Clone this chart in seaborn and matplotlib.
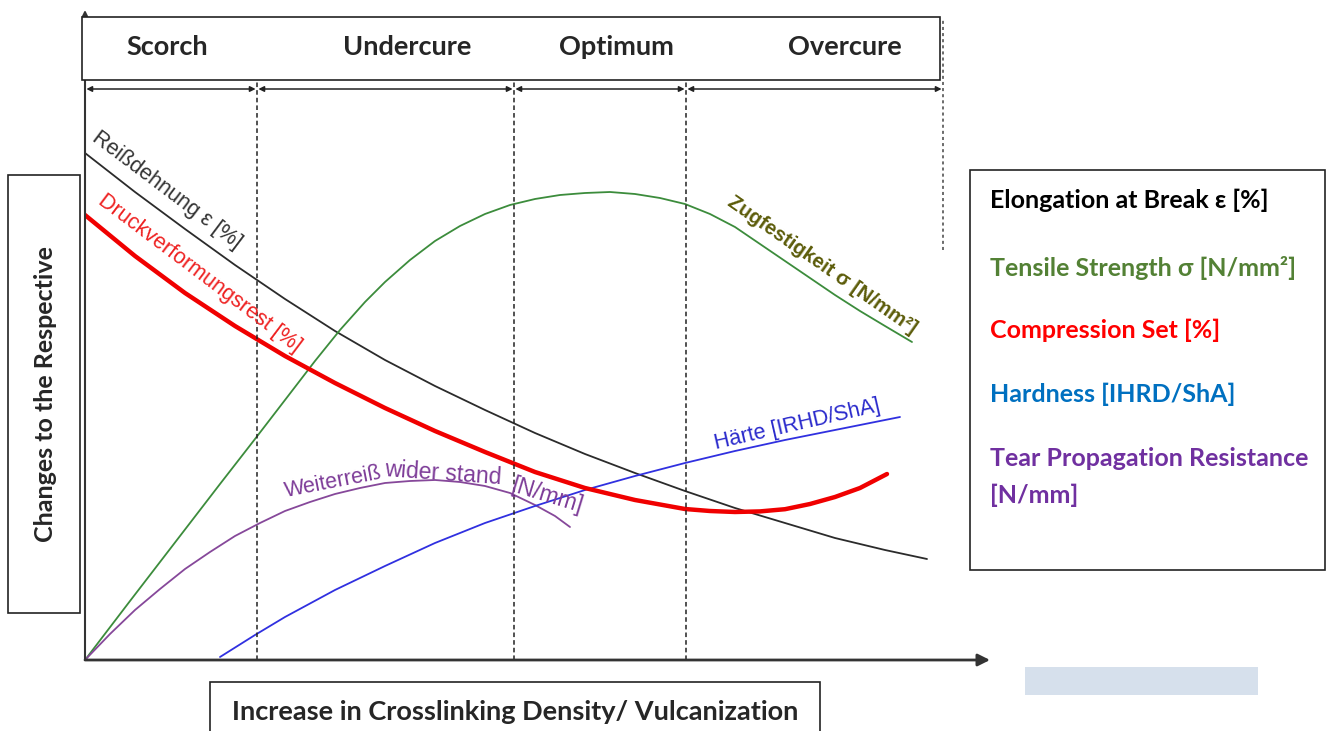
import numpy as np
import pandas as pd
import matplotlib
matplotlib.use('Agg')
import matplotlib.pyplot as plt
import seaborn as sns
from matplotlib.patches import Rectangle

W, H = 1328, 731

# Schematic curves
# x: increase in crosslinking density, y: change of property (arbitrary units)
elong_x = [0, 50, 100, 150, 200, 250, 300, 350, 400, 450, 500, 550, 600, 650, 700, 750, 800, 842]
elong_y = [507, 468, 431, 395, 361, 329, 300, 274, 250, 227, 206, 187, 169, 152, 137, 122, 110, 101]

compset_x = [0, 50, 100, 150, 200, 250, 300, 350, 400, 450, 500, 550, 600, 625, 650, 675, 700, 725, 750, 775, 802]
compset_y = [445, 404, 367, 334, 304, 277, 252, 229, 208, 188, 172, 160, 151, 149, 148, 148.6, 150.8, 156, 163, 172, 186]

tensile_x = [0, 45, 95, 135, 170, 200, 230, 255, 280, 300, 325, 350, 375, 400, 425, 450, 475, 500,
             525, 550, 575, 600, 625, 650, 675, 700, 725, 750, 775, 800, 827]
tensile_y = [0, 59, 124, 176, 221, 260, 299, 330, 358, 378, 400, 419, 434, 446, 455, 461, 465, 467,
             468, 466, 462, 456, 446, 433, 416, 399, 382, 365, 349, 334, 318]

tear_x = [0, 25, 50, 75, 100, 125, 150, 175, 200, 225, 250, 275, 300, 325, 350, 375, 400, 425, 450, 470, 485]
tear_y = [0, 26, 50, 71, 91, 108, 124, 137, 149, 158, 166, 172, 177, 179, 180, 178, 174, 167, 155, 144, 133]

hard_x = [135, 170, 200, 250, 300, 350, 400, 450, 500, 550, 600, 650, 700, 750, 815]
hard_y = [3, 25, 43, 70, 94, 117, 137, 154, 170, 184, 197, 209, 220, 230, 243]

phase_bounds = [0, 172, 429, 601, 858]
phase_names = ['Scorch', 'Undercure', 'Optimum', 'Overcure']

legend_items = ['Elongation at Break ε [%]', 'Tensile Strength σ [N/mm²]',
                'Compression Set [%]', 'Hardness [IHRD/ShA]',
                'Tear Propagation Resistance', '[N/mm]']

sns.set_theme(style='white')
plt.rcParams['font.family'] = ['Liberation Sans', 'DejaVu Sans']
BOX_FONT = ['Lato', 'DejaVu Sans']


def fx(px):
    return px / W


def fy(py):
    return 1 - py / H


fig = plt.figure(figsize=(W / 100, H / 100), dpi=100)
ax = fig.add_axes([85 / W, 71 / H, 905 / W, 650 / H])

curves = [
    (elong_x, elong_y, '#2b2b2b', 1.3),
    (tensile_x, tensile_y, '#3c8c3c', 1.3),
    (tear_x, tear_y, '#86489a', 1.3),
    (hard_x, hard_y, '#3030e0', 1.3),
    (compset_x, compset_y, '#f00000', 3.2),
]
for xs, ys, col, lw in curves:
    df = pd.DataFrame({'x': xs, 'y': ys})
    sns.lineplot(data=df, x='x', y='y', ax=ax, color=col, lw=lw, sort=False)

ax.set_xlim(0, 905)
ax.set_ylim(0, 650)
ax.axis('off')

# axes with arrows
ax.annotate('', xy=(905, 0), xytext=(0, 0), annotation_clip=False,
            arrowprops=dict(arrowstyle='-|>', color='#333333', lw=2, mutation_scale=18,
                            shrinkA=0, shrinkB=0))
ax.annotate('', xy=(0, 650), xytext=(0, 0), annotation_clip=False,
            arrowprops=dict(arrowstyle='-|>', color='#333333', lw=1.5, mutation_scale=8,
                            shrinkA=0, shrinkB=0))

# phase boundaries
for b in phase_bounds[1:4]:
    ax.plot([b, b], [0, 578], color='#222222', lw=1.1, ls=(0, (3, 2)))
ax.plot([phase_bounds[4], phase_bounds[4]], [410, 642], color='#444444', lw=1.1,
        ls=(0, (2, 2)), clip_on=False)
for a, b in zip(phase_bounds[:-1], phase_bounds[1:]):
    ax.annotate('', xy=(b, 571), xytext=(a, 571), annotation_clip=False,
                arrowprops=dict(arrowstyle='<|-|>', color='#222222', lw=1.1,
                                mutation_scale=8, shrinkA=1, shrinkB=1))

# labels along the curves (German original)
ax.text(82, 470, 'Reißdehnung ε [%]', rotation=-37, color='#333333', fontsize=15.5,
        ha='center', va='center', rotation_mode='anchor')
ax.text(115, 387, 'Druckverformungsrest [%]', rotation=-37, color='#ee2222', fontsize=15.5,
        ha='center', va='center', rotation_mode='anchor')
ax.text(737, 395, 'Zugfestigkeit σ [N/mm²]', rotation=-35, color='#5c5c0a', fontsize=14.5,
        fontweight='bold', ha='center', va='center', rotation_mode='anchor')
ax.text(712, 235, 'Härte [IRHD/ShA]', rotation=13, color='#2a2acc', fontsize=15.5,
        ha='center', va='center', rotation_mode='anchor')
ax.text(248, 178, 'Weiterreiß', rotation=11, color='#7d3c98', fontsize=15.5,
        ha='center', va='center', rotation_mode='anchor')
ax.text(358, 186, 'wider stand', rotation=-4, color='#7d3c98', fontsize=16.5,
        ha='center', va='center', rotation_mode='anchor')
ax.text(462, 164, '[N/mm]', rotation=-17, color='#7d3c98', fontsize=16.5,
        ha='center', va='center', rotation_mode='anchor')


def box(x0, y0, x1, y1, fc='white', ec='#222222', lw=1.2):
    fig.add_artist(Rectangle((fx(x0), fy(y1)), (x1 - x0) / W, (y1 - y0) / H,
                             transform=fig.transFigure, facecolor=fc, edgecolor=ec,
                             lw=lw, zorder=5))


# top phase box
box(82, 17, 940, 80)
for name, px in zip(phase_names, [167, 407, 616, 845]):
    fig.text(fx(px), fy(47), name, ha='center', va='center', fontsize=19.5,
             fontweight='bold', family=BOX_FONT, zorder=6)

# left box
box(8, 175, 80, 613)
fig.text(fx(46), fy(394), 'Changes to the Respective', rotation=90, ha='center',
         va='center', fontsize=18, fontweight='bold', family=BOX_FONT, zorder=6)

# bottom box
box(210, 682, 820, 745)
fig.text(fx(515), fy(712), 'Increase in Crosslinking Density/ Vulcanization',
         ha='center', va='center', fontsize=19.5, fontweight='bold', family=BOX_FONT, zorder=6)

# light blue patch
box(1025, 667, 1258, 695, fc='#d6e0ec', ec='none', lw=0)

# right legend box
box(970, 170, 1325, 570)
legend_colors = ['#000000', '#538135', '#ff0000', '#0070c0', '#7030a0', '#7030a0']
legend_y = [200, 268, 330, 394, 458, 495]
for txt, col, py in zip(legend_items, legend_colors, legend_y):
    fig.text(fx(990), fy(py), txt, ha='left', va='center', fontsize=18,
             fontweight='bold', color=col, family=BOX_FONT, zorder=6)

fig.savefig('out.png', dpi=100, facecolor='white')
